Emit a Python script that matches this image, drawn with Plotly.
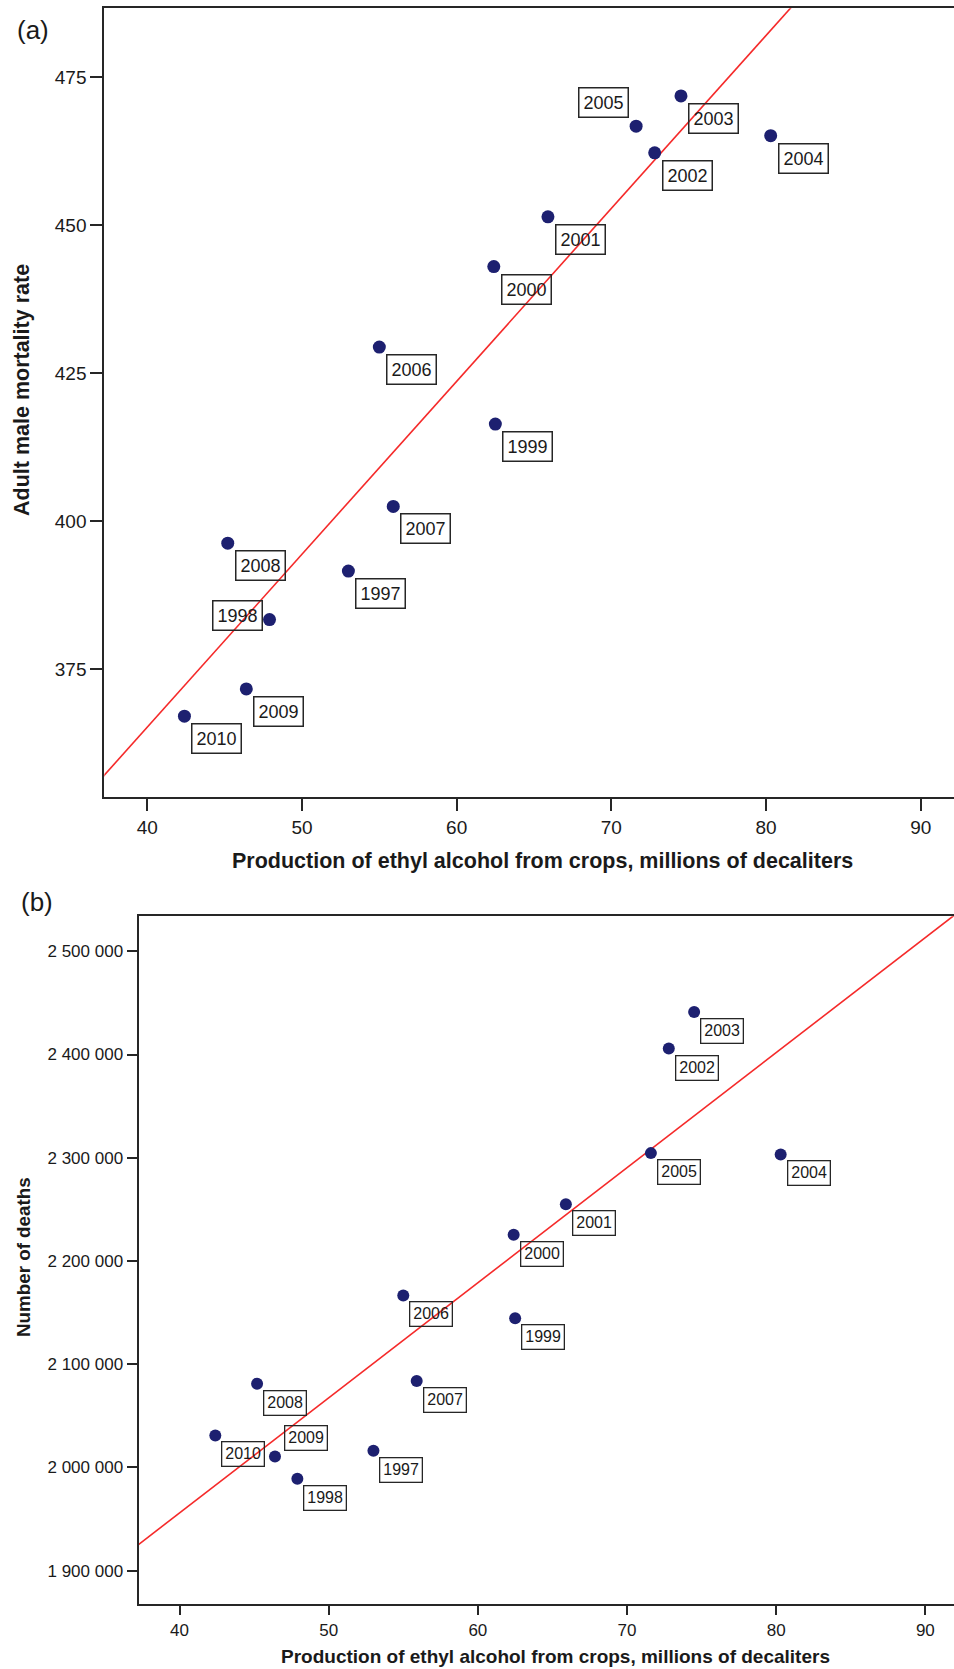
import numpy as np
import plotly.graph_objects as go

# ---------------- data ----------------
years = [1997, 1998, 1999, 2000, 2001, 2002, 2003, 2004, 2005, 2006, 2007, 2008, 2009, 2010]
alcohol = [53.0, 47.9, 62.5, 62.4, 65.9, 72.8, 74.5, 80.3, 71.6, 55.0, 55.9, 45.2, 46.4, 42.4]
mortality = [391.6, 383.4, 416.4, 443.0, 451.4, 462.2, 471.8, 465.1, 466.7, 429.4, 402.5, 396.3, 371.7, 367.1]
deaths = [2016100, 1989000, 2144600, 2225400, 2255000, 2405800, 2441100, 2303200,
          2304500, 2166600, 2083800, 2081200, 2010700, 2031000]

x_ticks = [40, 50, 60, 70, 80, 90]
ya_ticks = [375, 400, 425, 450, 475]
yb_ticks = [1900000, 2000000, 2100000, 2200000, 2300000, 2400000, 2500000]
yb_ticktext = ["{:,}".format(v).replace(",", " ") for v in yb_ticks]

x_title = "Production of ethyl alcohol from crops, millions of decaliters"
ya_title = "Adult male mortality rate"
yb_title = "Number of deaths"

# ---------------- styles ----------------
W, H = 954, 1669
FONT = "Arial, Liberation Sans, Helvetica, sans-serif"
NAVY = "#1d2070"
RED = "#f52a2a"
AX = "#262626"
TXT = "#1a1a1a"

xa_range = [37.22, 92.15]
ya_range = [353.4, 486.6]
xb_range = [37.25, 91.92]
yb_range = [1867450, 2533900]

# label placement per panel (style only)
default_pos = dict(xanchor="left", yanchor="top", xshift=7, yshift=-7)
special_a = {2005: dict(xanchor="right", yanchor="bottom", xshift=-7, yshift=8),
             1998: dict(xanchor="right", yanchor="middle", xshift=-7, yshift=4)}
special_b = {2009: dict(xanchor="left", yanchor="bottom", xshift=9, yshift=5)}

fig = go.Figure()

# regression lines (OLS fit of the data)
xs_line = np.array([30.0, 100.0])
ka, ba = np.polyfit(alcohol, mortality, 1)
kb, bb = np.polyfit(alcohol, deaths, 1)

fig.add_trace(go.Scatter(x=xs_line, y=ka * xs_line + ba, mode="lines",
                         line=dict(color=RED, width=1.6), xaxis="x", yaxis="y",
                         hoverinfo="skip", showlegend=False))
fig.add_trace(go.Scatter(x=alcohol, y=mortality, mode="markers",
                         marker=dict(color=NAVY, size=13), xaxis="x", yaxis="y",
                         showlegend=False))
fig.add_trace(go.Scatter(x=xs_line, y=kb * xs_line + bb, mode="lines",
                         line=dict(color=RED, width=1.6), xaxis="x2", yaxis="y2",
                         hoverinfo="skip", showlegend=False))
fig.add_trace(go.Scatter(x=alcohol, y=deaths, mode="markers",
                         marker=dict(color=NAVY, size=12), xaxis="x2", yaxis="y2",
                         showlegend=False))

annotations = []
for yr, xv, yv in zip(years, alcohol, mortality):
    pos = special_a.get(yr, default_pos)
    annotations.append(dict(x=xv, y=yv, xref="x", yref="y", text=str(yr), showarrow=False,
                            font=dict(family=FONT, size=18, color=TXT),
                            bordercolor=AX, borderwidth=1.5, borderpad=4,
                            bgcolor="rgba(0,0,0,0)", **pos))
for yr, xv, yv in zip(years, alcohol, deaths):
    pos = special_b.get(yr, dict(xanchor="left", yanchor="top", xshift=6, yshift=-6))
    annotations.append(dict(x=xv, y=yv, xref="x2", yref="y2", text=str(yr), showarrow=False,
                            font=dict(family=FONT, size=16, color=TXT),
                            bordercolor=AX, borderwidth=1.3, borderpad=3,
                            bgcolor="rgba(0,0,0,0)", **pos))

def px(xp):
    return xp / W

def py(yp):
    return 1 - yp / H

# titles and panel letters
annotations += [
    dict(x=px(542), y=py(861), xref="paper", yref="paper", text=x_title, showarrow=False,
         font=dict(family=FONT, size=21.5, color=TXT, weight="bold"), xanchor="center", yanchor="middle"),
    dict(x=px(22), y=py(390), xref="paper", yref="paper", text=ya_title, showarrow=False,
         textangle=-90, font=dict(family=FONT, size=21.5, color=TXT, weight="bold"),
         xanchor="center", yanchor="middle"),
    dict(x=px(555), y=py(1656.5), xref="paper", yref="paper", text=x_title, showarrow=False,
         font=dict(family=FONT, size=19, color=TXT, weight="bold"), xanchor="center", yanchor="middle"),
    dict(x=px(23), y=py(1257), xref="paper", yref="paper", text=yb_title, showarrow=False,
         textangle=-90, font=dict(family=FONT, size=18.8, color=TXT, weight="bold"),
         xanchor="center", yanchor="middle"),
    dict(x=px(33), y=py(30), xref="paper", yref="paper", text="(a)", showarrow=False,
         font=dict(family=FONT, size=26, color=TXT), xanchor="center", yanchor="middle"),
    dict(x=px(37), y=py(902), xref="paper", yref="paper", text="(b)", showarrow=False,
         font=dict(family=FONT, size=26, color=TXT), xanchor="center", yanchor="middle"),
]

axis_common = dict(showgrid=False, zeroline=False, showline=True, linecolor=AX, linewidth=2,
                   ticks="outside", tickwidth=2, tickcolor=AX)

fig.update_layout(
    width=W, height=H,
    margin=dict(l=0, r=0, t=0, b=0),
    paper_bgcolor="white", plot_bgcolor="white",
    font=dict(family=FONT, color=TXT),
    showlegend=False,
    xaxis=dict(domain=[px(104.3), 1.0], range=xa_range, anchor="y", mirror=True,
               tickvals=x_ticks, ticklen=12, tickfont=dict(size=19, color=TXT), **axis_common),
    yaxis=dict(domain=[py(797.3), py(8.3)], range=ya_range, anchor="x",
               tickvals=ya_ticks, ticklen=12, tickfont=dict(size=19, color=TXT), **axis_common),
    xaxis2=dict(domain=[px(138.5), 1.0], range=xb_range, anchor="y2", mirror=True,
                tickvals=x_ticks, ticklen=9, tickfont=dict(size=17, color=TXT), **axis_common),
    yaxis2=dict(domain=[py(1604.3), py(916.3)], range=yb_range, anchor="x2",
                tickvals=yb_ticks, ticktext=yb_ticktext, ticklen=10,
                tickfont=dict(size=17, color=TXT), **axis_common),
    annotations=annotations,
)

fig.write_html("out.html")
